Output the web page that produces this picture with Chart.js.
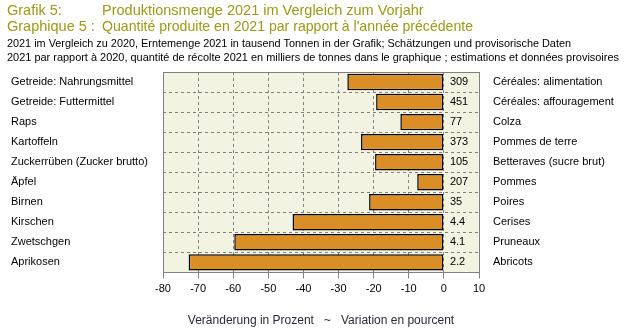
<!DOCTYPE html>
<html>
<head>
<meta charset="UTF-8">
<title>Produktionsmenge 2021</title>
<script src="https://cdn.jsdelivr.net/npm/chart.js@4/dist/chart.umd.min.js"></script>
<style>
  body { margin:0; background:#fff; }
  #wrap { position:relative; width:633px; height:336px; }
</style>
</head>
<body>
<div id="wrap"><canvas id="canvas"></canvas></div>
<script>
// Kulturen (de / fr)
const labelsDe = ['Getreide: Nahrungsmittel', 'Getreide: Futtermittel', 'Raps', 'Kartoffeln',
  'Zuckerrüben (Zucker brutto)', 'Äpfel', 'Birnen', 'Kirschen', 'Zwetschgen', 'Aprikosen'];
const labelsFr = ['Céréales: alimentation', 'Céréales: affouragement', 'Colza', 'Pommes de terre',
  'Betteraves (sucre brut)', 'Pommes', 'Poires', 'Cerises', 'Pruneaux', 'Abricots'];
// Veränderung in % gegenüber 2020
const change = [-27.5, -19.3, -12.4, -23.6, -19.6, -7.6, -21.3, -43.1, -59.7, -72.7];
// Erntemenge 2021, 1000 t
const amount = ['309', '451', '77', '373', '105', '207', '35', '4.4', '4.1', '2.2'];
const xTicks = [-80, -70, -60, -50, -40, -30, -20, -10, 0, 10];

const FONT = '"Liberation Sans", Arial, sans-serif';

const textPlugin = {
  id: 'texts',
  beforeDraw(chart) {
    const c = chart.ctx, a = chart.chartArea;
    c.save();
    c.fillStyle = '#f3f3e2';
    c.fillRect(a.left, a.top, a.right - a.left, a.bottom - a.top);
    c.restore();
  },
  afterDraw(chart) {
    const c = chart.ctx, a = chart.chartArea, y = chart.scales.y;
    c.save();
    // Rahmen
    c.strokeStyle = '#808080';
    c.lineWidth = 1;
    c.strokeRect(Math.round(a.left) + 0.5, Math.round(a.top) + 0.5,
      Math.round(a.right - a.left), Math.round(a.bottom - a.top));
    // Titel
    c.textBaseline = 'alphabetic';
    c.fillStyle = '#9c9a12';
    c.font = '14.5px ' + FONT;
    c.fillText('Grafik 5:', 7, 15);
    c.fillText('Produktionsmenge 2021 im Vergleich zum Vorjahr', 102, 15, 325);
    c.fillText('Graphique 5 :', 7, 31);
    c.fillText('Quantité produite en 2021 par rapport à l\'année précédente', 102, 31, 371);
    c.fillStyle = '#000';
    c.font = '11px ' + FONT;
    c.fillText('2021 im Vergleich zu 2020, Erntemenge 2021 in tausend Tonnen in der Grafik; Schätzungen und provisorische Daten', 7, 47, 564);
    c.fillText('2021 par rapport à 2020, quantité de récolte 2021 en milliers de tonnes dans le graphique ; estimations et données provisoires', 7, 61, 612);
    // Kategorien + Werte
    c.textBaseline = 'middle';
    const x0 = chart.scales.x.getPixelForValue(0);
    labelsDe.forEach((l, i) => {
      const py = y.getPixelForValue(i);
      c.fillText(l, 11, py);
      c.fillText(labelsFr[i], 493, py);
      c.fillText(amount[i], x0 + 6, py);
    });
    c.restore();
  }
};

new Chart(document.getElementById('canvas'), {
  type: 'bar',
  data: {
    labels: labelsDe,
    datasets: [{
      data: change,
      backgroundColor: '#db8e26',
      borderColor: '#000',
      borderWidth: 1.5,
      borderSkipped: false,
      categoryPercentage: 1,
      barPercentage: 0.82
    }]
  },
  options: {
    indexAxis: 'y',
    responsive: true,
    maintainAspectRatio: false,
    animation: false,
    layout: { padding: { left: 163, right: 154, top: 72, bottom: 8 } },
    plugins: { legend: { display: false }, tooltip: { enabled: false } },
    scales: {
      x: {
        min: -80, max: 10,
        afterBuildTicks: s => { s.ticks = xTicks.map(v => ({ value: v })); },
        grid: { color: '#808080', tickColor: '#808080', tickLength: 6, lineWidth: 1 },
        border: { display: false, dash: [3, 3] },
        ticks: { color: '#000', font: { family: FONT, size: 11 }, padding: 4 },
        title: {
          display: true,
          text: 'Veränderung in Prozent   ~   Variation en pourcent',
          color: '#302638',
          font: { family: FONT, size: 12 },
          padding: { top: 14, bottom: 0 }
        }
      },
      y: {
        grid: { color: '#808080', offset: true, drawTicks: false, lineWidth: 1 },
        border: { display: false, dash: [3, 3] },
        ticks: { display: false }
      }
    }
  },
  plugins: [textPlugin]
});
</script>
</body>
</html>
